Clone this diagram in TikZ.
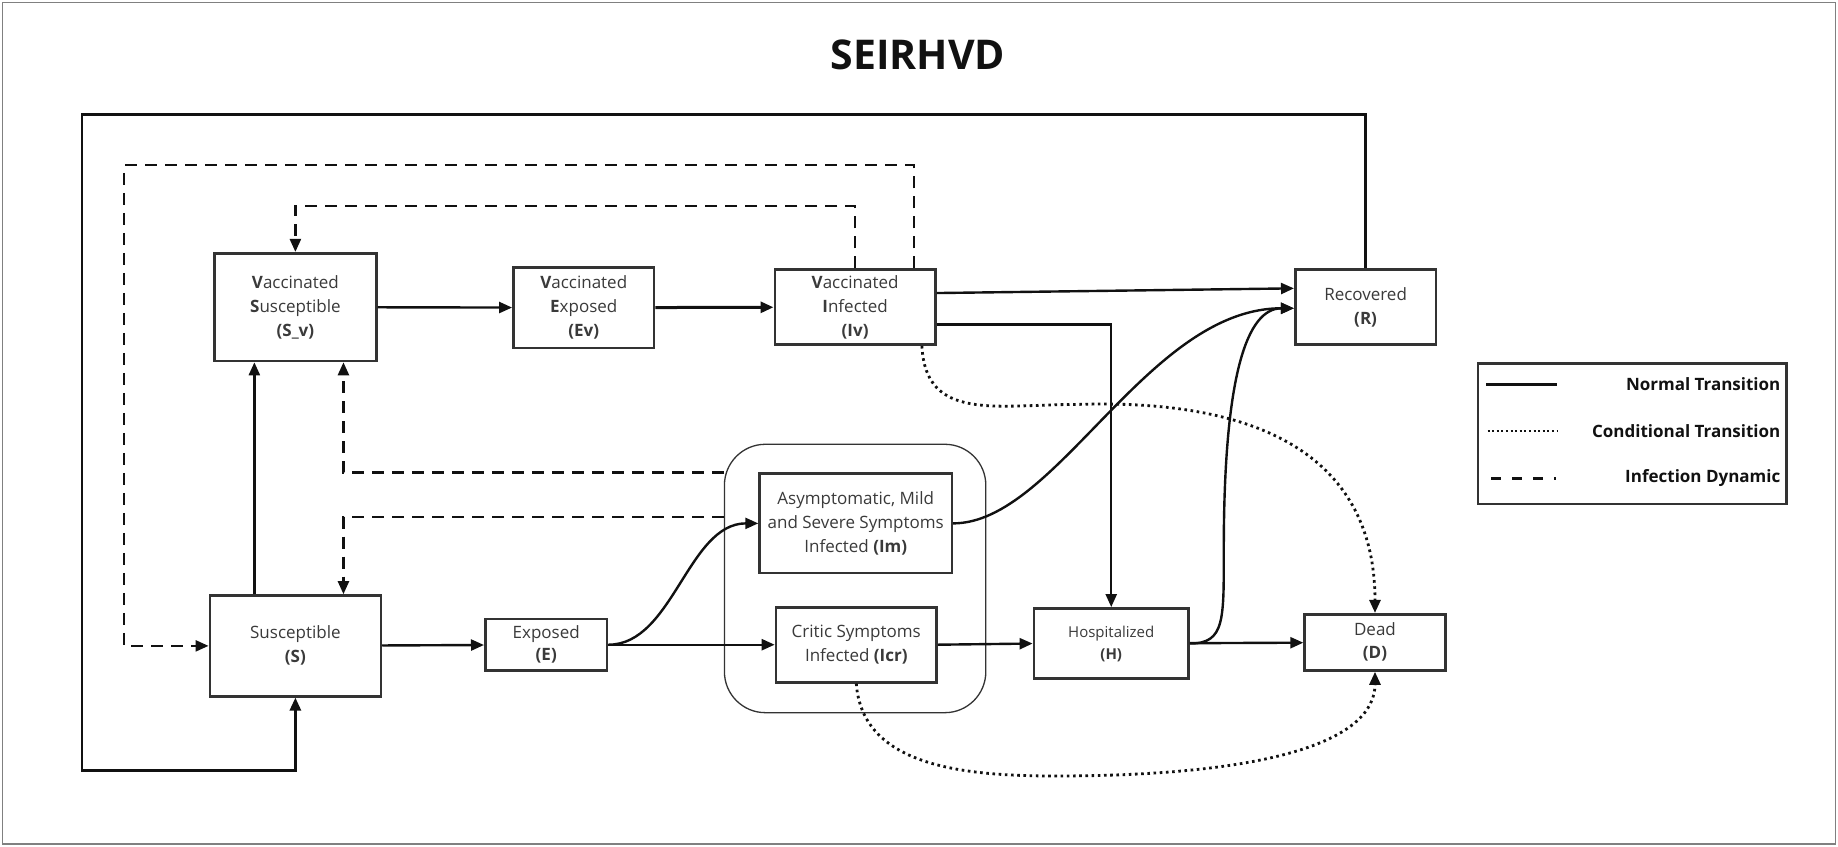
\documentclass[tikz,border=0pt]{standalone}
\usepackage{fontspec}
\setmainfont{Open Sans}
\usetikzlibrary{arrows.meta,calc}
\definecolor{boxline}{HTML}{333333}
\definecolor{txtgray}{HTML}{3A3A3A}
\definecolor{linecol}{HTML}{111111}

\begin{document}
\begin{tikzpicture}[x=1.1722pt, y=-1.1722pt]
  \tikzset{
    compartment/.style={draw=boxline, line width=2.6pt, fill=white, align=center, text=txtgray,
      inner sep=0pt, font=\fontsize{17}{24}\selectfont},
    transition/.style={draw=linecol, line width=2.4pt, -{Triangle[length=13pt, width=11pt]}},
    conditional/.style={transition, line width=2.8pt, dash pattern=on 2.6pt off 3.6pt},
    dynamic/.style={transition, dash pattern=on 12pt off 8pt},
    legend text/.style={anchor=east, inner sep=0pt, text=linecol, font=\fontsize{17}{20}\selectfont\bfseries}
  }

  \useasboundingbox (0,0) rectangle (1568,722);
  \draw[gray, line width=1.2pt] (2,2) rectangle (1566,720);

  % Title
  \node[text=linecol, font=\fontsize{41}{48}\selectfont\bfseries] (title) at (783,47) {SEIRHVD};

  % Infected group
  \node[draw=boxline, rounded corners=41pt, line width=1.3pt, minimum width=261.4pt, minimum height=268.4pt] (grp) at (729.5,493.5) {};

  % Compartments
  \node[compartment, minimum width=161.8pt, minimum height=107.8pt] (Sv) at (252,262) {\textbf{V}accinated\\\textbf{S}usceptible\\\textbf{(S\_v)}};
  \node[compartment, minimum width=140.7pt, minimum height=80.9pt] (Ev) at (498,262.5) {\textbf{V}accinated\\\textbf{E}xposed\\\textbf{(Ev)}};
  \node[compartment, minimum width=160.6pt, minimum height=75pt] (Iv) at (729.5,262) {\textbf{V}accinated\\\textbf{I}nfected\\\textbf{(Iv)}};
  \node[compartment, minimum width=140.7pt, minimum height=75pt] (R) at (1165,262) {Recovered\\\textbf{(R)}};
  \node[compartment, minimum width=192.2pt, minimum height=99.6pt] (Im) at (730,446.5) {Asymptomatic, Mild\\and Severe Symptoms\\Infected \textbf{(Im)}};
  \node[compartment, minimum width=160.6pt, minimum height=75pt] (Icr) at (730.5,550) {Critic Symptoms\\Infected \textbf{(Icr)}};
  \node[compartment, minimum width=171.1pt, minimum height=100.8pt] (S) at (252,551) {Susceptible\\\textbf{(S)}};
  \node[compartment, minimum width=121.9pt, minimum height=51.6pt, font=\fontsize{17}{22}\selectfont] (E) at (466,550) {Exposed\\\textbf{(E)}};
  \node[compartment, minimum width=154.7pt, minimum height=70.3pt, font=\fontsize{15}{22}\selectfont] (H) at (948,549) {Hospitalized\\\textbf{(H)}};
  \node[compartment, minimum width=140.7pt, minimum height=56.3pt, font=\fontsize{17}{23}\selectfont] (D) at (1173,548) {Dead\\\textbf{(D)}};

  % Normal transitions
  \draw[transition] (Sv) -- (Ev);
  \draw[transition, line width=3pt] (Ev) -- (Iv);
  \draw[transition] ($(Iv.east)+(0,-12)$) -- ($(R.west)+(0,-16)$);
  \draw[transition] ($(Iv.east)+(0,15)$) -| (H.north);
  \draw[transition] ($(S.north)+(-35,0)$) -- ($(Sv.south)+(-35,0)$);
  \draw[transition] (S) -- (E);
  \draw[transition] (E.east) .. controls +(55,0) and +(-60,0) .. (Im.west);
  \draw[transition] (E) -- (Icr);
  \draw[transition] (Icr.east) -- (H.west);
  \draw[transition] (H) -- (D);
  \draw[transition] (Im.east) .. controls +(88,0) and +(-125,0) .. ($(R.west)+(0,1)$);
  \draw[transition] (H.east) .. controls +(30,0) and +(0,60) .. (1044,469)
    .. controls +(0,-150) and +(-40,0) .. ($(R.west)+(0,1)$);

  % Recovered back to susceptible
  \coordinate (loopTL) at (70,98);
  \coordinate (loopBL) at (70,657);
  \draw[transition, line width=2.8pt] (R.north) |- (loopTL) -- (loopBL) -| (S.south);

  % Infection dynamic
  \coordinate (dynTL) at (106,141);
  \draw[dynamic] ($(Iv.north)+(50,0)$) |- (dynTL) |- (S.west);
  \draw[dynamic] (Iv.north) -- ++(0,-53) -| (Sv.north);
  \draw[dynamic] ($(grp.west)+(0,-90.5)$) -| ($(Sv.south)+(41,0)$);
  \draw[dynamic] ($(grp.west)+(0,-52.5)$) -| ($(S.north)+(41,0)$);

  % Conditional transitions
  \draw[conditional] ($(Iv.south)+(57,0)$) .. controls +(3,65) and +(-70,0) .. (920,345)
    .. controls +(160,-5) and +(0,-130) .. (D.north);
  \draw[conditional] (Icr.south) .. controls +(5,70) and +(-80,0) .. (900,662)
    .. controls +(180,0) and +(0,60) .. (D.south);

  % Legend
  \node[draw=boxline, line width=2.6pt, minimum width=308.3pt, minimum height=140.7pt] (legend) at (1392.5,370) {};
  \node[legend text] (lgNormal) at (1519,328) {Normal Transition};
  \node[legend text] (lgCond) at (1519,368) {Conditional Transition};
  \node[legend text] (lgDyn) at (1519,408) {Infection Dynamic};
  \draw[draw=linecol, line width=2.6pt] (1268,328) -- (1328,328);
  \draw[draw=linecol, line width=2pt, dash pattern=on 2pt off 2.6pt] (1269,368) -- (1328,368);
  \draw[draw=linecol, line width=2.6pt, dash pattern=on 10pt off 11pt] (1272,408) -- (1327.5,408);

\end{tikzpicture}
\end{document}
